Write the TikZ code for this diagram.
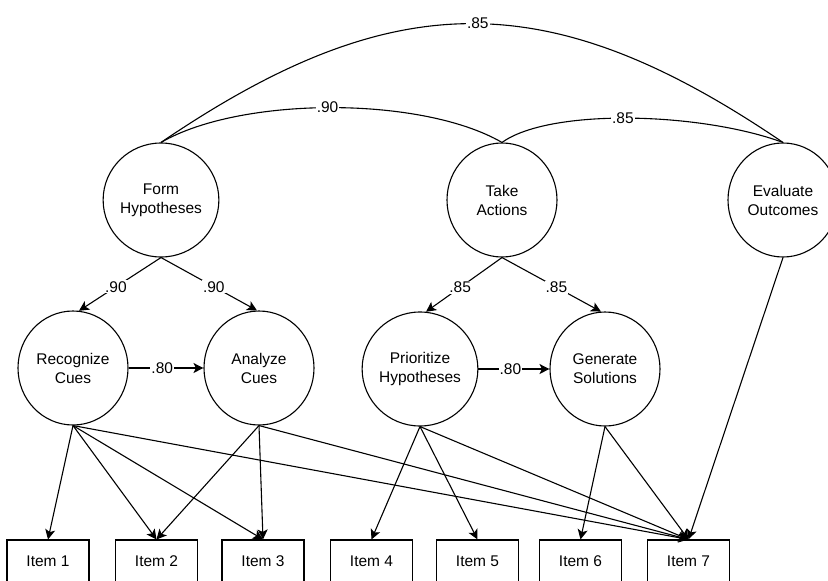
\documentclass[tikz,border=0pt]{standalone}
\usepackage{fontspec}
\setmainfont{Liberation Sans}
\usetikzlibrary{shapes.geometric,arrows.meta}
\begin{document}
\begin{tikzpicture}[x=1pt,y=-1pt,
  latent/.style={ellipse,draw,line width=1.1pt,minimum width=110pt,minimum height=114pt,inner sep=0pt,align=center,font=\fontsize{15.5}{19}\selectfont},
  itembox/.style={rectangle,draw,line width=1.1pt,minimum width=82pt,minimum height=42pt,inner sep=0pt,font=\fontsize{15.5}{17}\selectfont},
  arr/.style={line width=1.1pt,-{Stealth[length=10pt,width=10pt,inset=2.5pt]}},
  con/.style={line width=1.1pt},
  lbl/.style={fill=white,inner sep=1pt,font=\fontsize{15.5}{17}\selectfont}
]
\useasboundingbox (0,0) rectangle (828,581);
\fill[white] (0,0) rectangle (828,581);

% latent variables
\node[latent] (FH) at (161,200) {Form\\Hypotheses};
\node[latent] (TA) at (502,200) {Take\\Actions};
\node[latent] (EO) at (783,200) {Evaluate\\Outcomes};
\node[latent] (RC) at (73,368) {Recognize\\Cues};
\node[latent] (AC) at (259,368) {Analyze\\Cues};
\node[latent] (PH) at (420,369) {Prioritize\\Hypotheses};
\node[latent] (GS) at (605,369) {Generate\\Solutions};

% items
\node[itembox] (I1) at (48,561) {Item 1};
\node[itembox] (I2) at (156.5,561) {Item 2};
\node[itembox] (I3) at (263,561) {Item 3};
\node[itembox] (I4) at (371.5,561) {Item 4};
\node[itembox] (I5) at (477.5,561) {Item 5};
\node[itembox] (I6) at (580.5,561) {Item 6};
\node[itembox] (I7) at (688.5,561) {Item 7};

% correlations
\draw[con] (FH.north) .. controls (394,-16) and (550,-16) .. (EO.north)
  node[lbl,pos=0.51] {.85};
\draw[con] (FH.north) .. controls (241,96) and (422,96) .. (TA.north)
  node[lbl,pos=0.49] {.90};
\draw[con] (TA.north) .. controls (550,108) and (700,112) .. (EO.north)
  node[lbl,pos=0.48] {.85};

% higher-order loadings
\draw[arr] (FH.south) -- node[lbl,pos=0.55] {.90} (RC.84);
\draw[arr] (FH.south) -- node[lbl,pos=0.55] {.90} (AC.92);
\draw[arr] (TA.south) -- node[lbl,pos=0.55] {.85} (PH.84);
\draw[arr] (TA.south) -- node[lbl,pos=0.55] {.85} (GS.94);

% paths between first-order factors
\draw[arr] (RC.east) -- node[lbl,pos=0.45] {.80} (AC.west);
\draw[arr] (PH.east) -- node[lbl,pos=0.45] {.80} (GS.west);

% item loadings
\draw[arr] (RC.south) -- (I1.north);
\draw[arr] (RC.south) -- (I2.north);
\draw[arr] (RC.south) -- (I3.north);
\draw[arr] (RC.south) -- (I7.north);
\draw[arr] (AC.south) -- (I2.north);
\draw[arr] (AC.south) -- (I3.north);
\draw[arr] (AC.south) -- (I7.north);
\draw[arr] (PH.south) -- (I4.north);
\draw[arr] (PH.south) -- (I5.north);
\draw[arr] (PH.south) -- (I7.north);
\draw[arr] (GS.south) -- (I6.north);
\draw[arr] (GS.south) -- (I7.north);
\draw[arr] (EO.south) -- (I7.north);
\end{tikzpicture}
\end{document}
